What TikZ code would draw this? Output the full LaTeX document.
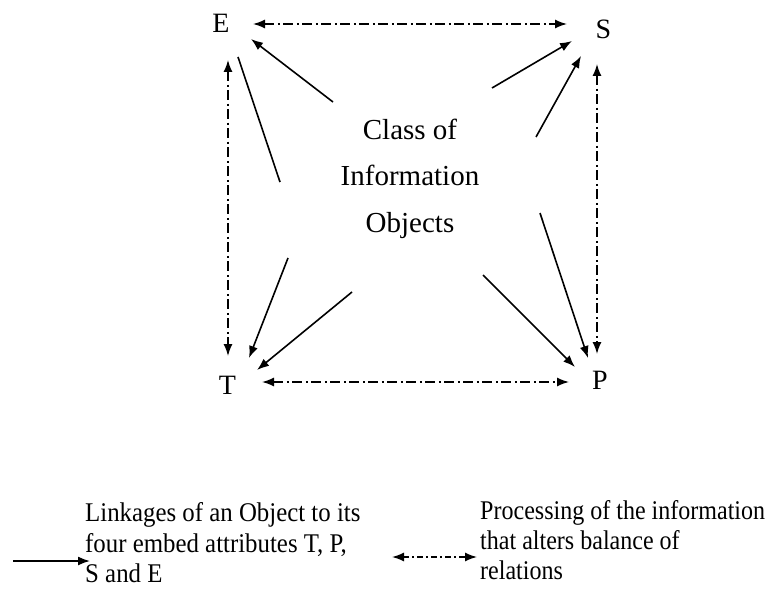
\documentclass[tikz,border=0pt]{standalone}
\usepackage{fontspec}
\setmainfont{Liberation Serif}
\newfontfamily\legfont[FakeStretch=0.92]{Liberation Serif}
\newfontfamily\legfontb[FakeStretch=0.89]{Liberation Serif}
\usetikzlibrary{arrows.meta}
\tikzset{
  corner/.style={inner sep=0pt, font=\fontsize{28}{30}\selectfont, anchor=base},
  centretext/.style={inner sep=0pt, align=center, font=\fontsize{29}{46.5}\selectfont, anchor=base},
  legtext/.style={inner sep=0pt, align=left, font=\legfont\fontsize{27}{30.5}\selectfont, anchor=base west},
  legtextb/.style={legtext, font=\legfontb\fontsize{27}{30}\selectfont},
  link/.style={line width=1.6pt, -{Latex[length=12pt,width=9pt]}},
  bare/.style={line width=1.6pt},
  proc/.style={line width=1.5pt, dash pattern=on 10pt off 3.5pt on 2pt off 3.5pt,
    {Latex[length=12pt,width=9pt]}-{Latex[length=12pt,width=9pt]}},
}
\begin{document}
\begin{tikzpicture}[x=1pt,y=-1pt]
\useasboundingbox (0,0) rectangle (767,588);
% corner labels
\node[corner] (E) at (221,33) {E};
\node[corner] (S) at (603.5,39) {S};
\node[corner] (T) at (227.5,394) {T};
\node[corner] (P) at (600,389) {P};
% centre (anchor = baseline of the last line)
\node[centretext] (C) at (410,232) {Class of\\Information\\Objects};
% end points of the connectors
\coordinate (ESa) at (253,24);  \coordinate (ESb) at (567,24);
\coordinate (TPa) at (262,382); \coordinate (TPb) at (569,382);
\coordinate (ETa) at (228,60);  \coordinate (ETb) at (228,356);
\coordinate (SPa) at (597,64);  \coordinate (SPb) at (597,354);
\coordinate (cE1) at (333,102); \coordinate (hE1) at (251,39);
\coordinate (cE2) at (280,182); \coordinate (hE2) at (238,57);
\coordinate (cS1) at (492,88);  \coordinate (hS1) at (572,41);
\coordinate (cS2) at (536,137); \coordinate (hS2) at (581,56);
\coordinate (cT1) at (288,258); \coordinate (hT1) at (249,358);
\coordinate (cT2) at (352,292); \coordinate (hT2) at (257,370);
\coordinate (cP1) at (540,213); \coordinate (hP1) at (588,358);
\coordinate (cP2) at (483,275); \coordinate (hP2) at (575,367);
% processing (dash-dot) relations
\draw[proc] (ESa) -- (ESb);
\draw[proc] (TPa) -- (TPb);
\draw[proc] (ETa) -- (ETb);
\draw[proc] (SPa) -- (SPb);
% linkages
\draw[link] (cE1) -- (hE1);
\draw[bare] (cE2) -- (hE2);
\draw[link] (cS1) -- (hS1);
\draw[link] (cS2) -- (hS2);
\draw[link] (cT1) -- (hT1);
\draw[link] (cT2) -- (hT2);
\draw[link] (cP1) -- (hP1);
\draw[link] (cP2) -- (hP2);
% legend (anchor = baseline of the last line)
\node[legtext] (L1) at (85,582.5) {Linkages of an Object to its\\four embed attributes T, P,\\S and E};
\node[legtextb] (L2) at (480,579) {Processing of the information\\that alters balance of\\relations};
\coordinate (la) at (13,561); \coordinate (lb) at (90,561);
\draw[link] (la) -- (lb);
\coordinate (pa) at (392,557); \coordinate (pb) at (477,557);
\draw[proc, dash pattern=on 6pt off 3pt on 2pt off 3pt] (pa) -- (pb);
\end{tikzpicture}
\end{document}
